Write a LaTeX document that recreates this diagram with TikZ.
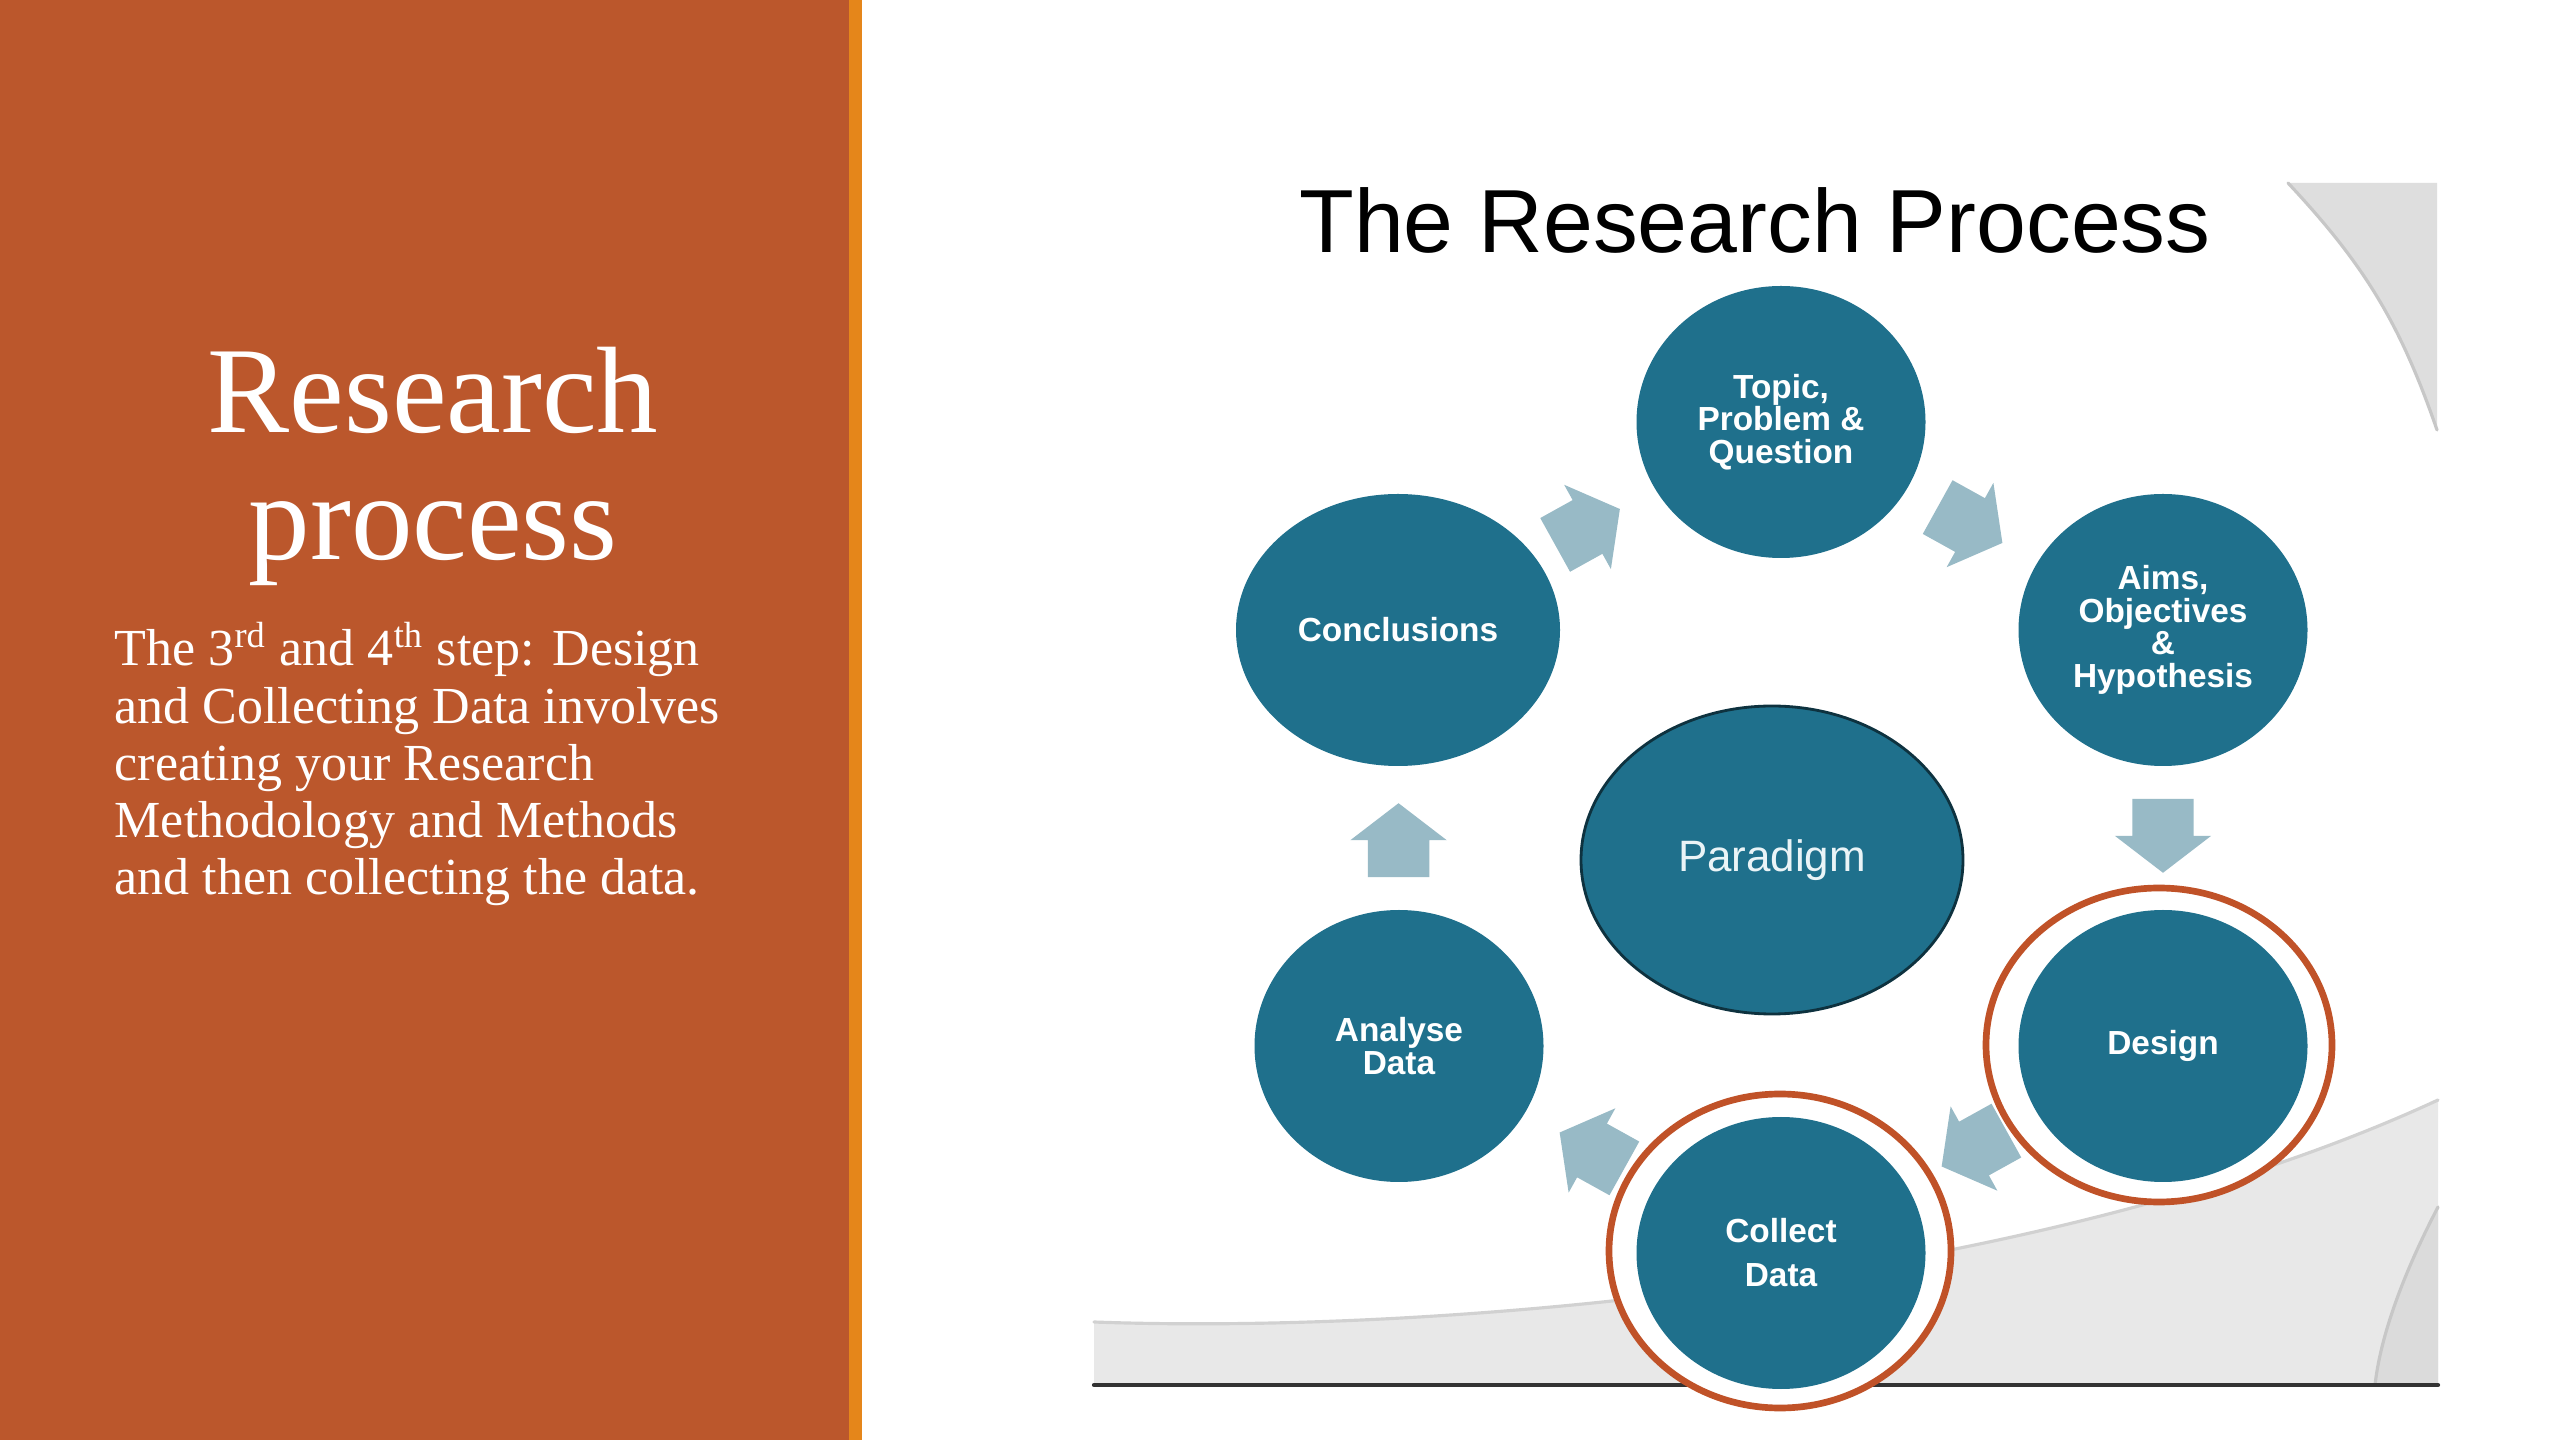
\documentclass[tikz,border=0pt]{standalone}
\usepackage{fontspec}
\setmainfont{Liberation Serif}
\setsansfont{Liberation Sans}
\usetikzlibrary{shapes.geometric,shapes.arrows,calc}

\definecolor{rust}{RGB}{187,87,44}
\definecolor{stripe}{RGB}{229,134,26}
\definecolor{stageteal}{RGB}{31,112,140}
\definecolor{flowblue}{RGB}{152,186,198}
\definecolor{ringred}{RGB}{192,82,40}
\definecolor{paletext}{RGB}{234,244,247}

\begin{document}
\begin{tikzpicture}[line cap=round,line join=round,
  stage/.style={ellipse,fill=stageteal,text=white,inner sep=0pt,minimum width=2.89cm,minimum height=2.72cm,align=center,font=\sffamily\bfseries\fontsize{9.5}{9.3}\selectfont},
  flow/.style={single arrow,fill=flowblue,inner xsep=0pt,inner ysep=0.3cm,minimum height=0.74cm,minimum width=0.95cm,single arrow head extend=0.175cm,single arrow tip angle=105},
  focus ring/.style={ellipse,draw=ringred,line width=1.9pt,fill=white,inner sep=0pt}]
\path[use as bounding box] (0,0) rectangle (25.6,14.4);
\fill[white] (0,0) rectangle (25.6,14.4);
% left panel
\fill[rust] (0,0) rectangle (8.49,14.4);
\fill[stripe] (8.49,0) rectangle (8.62,14.4);
\node[font=\fontsize{35}{36.2}\selectfont,text=white,align=center,anchor=base] (heading) at (4.33,8.80) {Research\\process};
\node[font=\fontsize{14.8}{16.3}\selectfont,text=white,align=left,inner sep=0pt,anchor=base west] (summary) at (1.14,5.45) {The 3\textsuperscript{rd} and 4\textsuperscript{th} step: Design\\and Collecting Data involves\\creating your Research\\Methodology and Methods\\and then collecting the data.};
% slide backdrop
\fill[black!13] (22.88,12.57) to[bend left=12] (24.37,10.10) -- (24.37,12.57) -- cycle;
\draw[black!22,line width=0.9pt] (22.88,12.57) to[bend left=12] (24.37,10.10);
\fill[black!9] (10.94,0.55) -- (10.94,1.18) .. controls (14.5,1.05) and (20.5,1.6) .. (24.38,3.40) -- (24.38,0.55) -- cycle;
\draw[black!18,line width=0.9pt] (10.94,1.18) .. controls (14.5,1.05) and (20.5,1.6) .. (24.38,3.40);
\fill[black!14] (24.38,2.33) .. controls (24.0,1.6) and (23.8,1.0) .. (23.75,0.55) -- (24.38,0.55) -- cycle;
\draw[black!22,line width=0.9pt] (24.38,2.33) .. controls (24.0,1.6) and (23.8,1.0) .. (23.75,0.55);
\draw[black!80,line width=1.2pt] (10.94,0.55) -- (24.38,0.55);
\node[font=\sffamily\fontsize{25.5}{30}\selectfont,anchor=base] (title) at (17.55,11.87) {The Research Process};
% stage positions
\coordinate (p-topic) at (17.81,10.18);
\coordinate (p-aims) at (21.63,8.10);
\coordinate (p-design) at (21.63,3.94);
\coordinate (p-collect) at (17.81,1.87);
\coordinate (p-analyse) at (13.99,3.94);
\coordinate (p-concl) at (13.98,8.10);
% flow arrows
\foreach \a/\b/\r in {concl/topic/29,topic/aims/-29,aims/design/-90,design/collect/209,collect/analyse/151,analyse/concl/90}
  \node[flow,rotate=\r] (to-\b) at ($(p-\a)!0.5!(p-\b)!0.14cm!(p-\a)$) {};
% highlighted steps
\node[focus ring,minimum width=3.46cm,minimum height=3.14cm] (design-ring) at (21.59,3.95) {};
\node[focus ring,minimum width=3.42cm,minimum height=3.14cm] (collect-ring) at (17.80,1.89) {};
% stages
\node[stage] (topic) at (p-topic) {Topic,\\Problem \&\\Question};
\node[stage] (aims) at (p-aims) {Aims,\\Objectives\\\&\\Hypothesis};
\node[stage] (design) at (p-design) {Design};
\node[stage] (collect) at (p-collect) {Collect\\[3.2pt]Data};
\node[stage] (analyse) at (p-analyse) {Analyse\\Data};
\node[stage,minimum width=3.24cm] (concl) at (p-concl) {Conclusions};
\node[ellipse,fill=stageteal,draw=stageteal!45!black,line width=0.8pt,minimum width=3.82cm,minimum height=3.08cm,text=paletext,font=\sffamily\fontsize{12.5}{14}\selectfont] (paradigm) at (17.72,5.80) {Paradigm};
\end{tikzpicture}
\end{document}
